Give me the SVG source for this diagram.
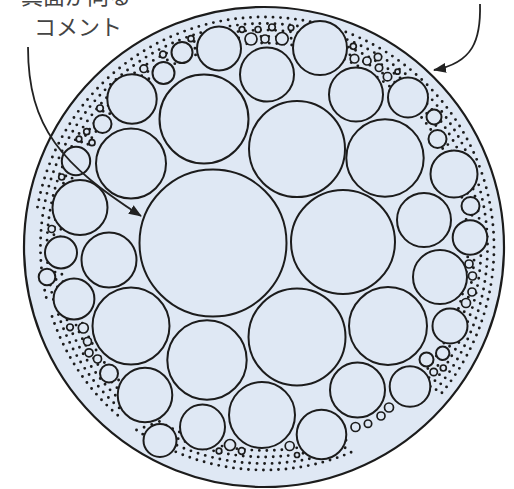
<svg xmlns="http://www.w3.org/2000/svg" width="514" height="489" viewBox="0 0 514 489">
<defs>
<style>
.c{fill:#dfe8f4;stroke:#1c1c1c;stroke-width:2}
.r{fill:#dfe8f4;stroke:#1c1c1c;stroke-width:1.7}
.d{fill:none;stroke:#1c1c1c;stroke-width:2.9;stroke-linecap:round;stroke-dasharray:0 7.5}
.t{font-family:"Noto Sans CJK JP","Noto Sans",sans-serif;font-size:22px;fill:#444}
.a{fill:none;stroke:#222;stroke-width:1.8}
</style>
<marker id="ah" markerUnits="userSpaceOnUse" markerWidth="13" markerHeight="11" viewBox="0 0 13 10" refX="12" refY="5" orient="auto">
<path d="M0,0 L13,5 L0,10 z" fill="#222"/>
</marker>
</defs>
<rect width="514" height="489" fill="#ffffff"/>
<g id="outer"><circle cx="264" cy="247" r="240" fill="#dfe8f4" stroke="#1c1c1c" stroke-width="2.2"/></g>
<g id="dots">
<path class="d" d="M351.1,452.3 A223,223 0 0 1 136.1,429.7"/>
<path class="d" style="stroke-dashoffset:3.7" d="M348.6,446.3 A216.5,216.5 0 0 1 139.8,424.4"/>
<path class="d" d="M346,440.3 A210,210 0 0 1 143.5,419"/>
<path class="d" style="stroke-dashoffset:3.7" d="M343.5,434.3 A203.5,203.5 0 0 1 147.3,413.7"/>
<path class="d" d="M117.7,415.3 A223,223 0 0 1 50.7,312.2"/>
<path class="d" style="stroke-dashoffset:3.7" d="M122,410.4 A216.5,216.5 0 0 1 57,310.3"/>
<path class="d" d="M126.2,405.5 A210,210 0 0 1 63.2,308.4"/>
<path class="d" style="stroke-dashoffset:3.7" d="M130.5,400.6 A203.5,203.5 0 0 1 69.4,306.5"/>
<path class="d" d="M134.7,395.7 A197,197 0 0 1 75.6,304.6"/>
<path class="d" d="M37.5,207.1 A230,230 0 0 1 311.8,22"/>
<path class="d" style="stroke-dashoffset:3.7" d="M47.1,301.1 A223.5,223.5 0 0 1 310.5,28.4"/>
<path class="d" d="M53.4,299.5 A217,217 0 0 1 309.1,34.8"/>
<path class="d" style="stroke-dashoffset:3.7" d="M59.8,297.9 A210.5,210.5 0 0 1 307.8,41.1"/>
<path class="d" d="M66.1,296.3 A204,204 0 0 1 306.4,47.5"/>
<path class="d" d="M338.9,29.5 A230,230 0 0 1 440.2,394.8"/>
<path class="d" style="stroke-dashoffset:3.7" d="M336.8,35.7 A223.5,223.5 0 0 1 435.2,390.7"/>
<path class="d" d="M334.7,41.8 A217,217 0 0 1 414.7,403.1"/>
<path class="d" style="stroke-dashoffset:3.7" d="M332.5,48 A210.5,210.5 0 0 1 410.2,398.4"/>
<path class="d" d="M330.4,54.1 A204,204 0 0 1 405.7,393.7"/>
</g>
<g id="circles">
<circle class="c" cx="213" cy="243" r="73.5"/>
<circle class="c" cx="343" cy="242" r="52"/>
<circle class="c" cx="297" cy="149" r="48"/>
<circle class="c" cx="297" cy="337" r="48.5"/>
<circle class="c" cx="204" cy="119" r="44.5"/>
<circle class="c" cx="385" cy="158" r="38.7"/>
<circle class="c" cx="388" cy="326" r="39"/>
<circle class="c" cx="207" cy="360" r="39.7"/>
<circle class="c" cx="131" cy="326" r="38.5"/>
<circle class="c" cx="131" cy="163.5" r="35"/>
<circle class="c" cx="262" cy="415" r="33"/>
<circle class="c" cx="267" cy="74.5" r="27"/>
<circle class="c" cx="320" cy="48" r="27"/>
<circle class="c" cx="356" cy="94.5" r="27"/>
<circle class="c" cx="424" cy="220" r="27"/>
<circle class="c" cx="440" cy="277" r="27"/>
<circle class="c" cx="357.5" cy="390" r="27.5"/>
<circle class="c" cx="145" cy="395" r="27.3"/>
<circle class="c" cx="109" cy="260" r="27.5"/>
<circle class="c" cx="80" cy="207.5" r="27.5"/>
<circle class="c" cx="132" cy="99" r="24.7"/>
<circle class="c" cx="321.5" cy="434.5" r="24.8"/>
<circle class="c" cx="454" cy="174" r="23.5"/>
<circle class="c" cx="219" cy="48.5" r="22"/>
<circle class="c" cx="202.5" cy="427" r="22.5"/>
<circle class="c" cx="74" cy="299" r="20.4"/>
<circle class="c" cx="408" cy="97.5" r="20"/>
<circle class="c" cx="410" cy="386.5" r="20.3"/>
<circle class="c" cx="470" cy="237.5" r="17.3"/>
<circle class="c" cx="450" cy="326" r="17.5"/>
<circle class="c" cx="160" cy="440.5" r="16.5"/>
<circle class="c" cx="61" cy="252.5" r="16"/>
<circle class="c" cx="76" cy="161" r="14.2"/>
<circle class="c" cx="182" cy="52.5" r="10.5"/>
<circle class="c" cx="163.5" cy="73" r="11"/>
<circle class="c" cx="470.5" cy="206" r="9"/>
<circle class="c" cx="437.5" cy="139" r="9"/>
<circle class="c" cx="109" cy="373.5" r="9"/>
<circle class="c" cx="102.5" cy="124" r="9"/>
<circle class="c" cx="47" cy="277" r="8.3"/>
<circle class="c" cx="434" cy="117" r="7.5"/>
<circle class="c" cx="426.5" cy="359.5" r="7"/>
<circle class="c" cx="442.7" cy="353.3" r="6.7"/>
</g>
<g id="rings">
<circle class="r" cx="251" cy="39" r="6"/>
<circle class="r" cx="265" cy="39" r="4"/>
<circle class="r" cx="282" cy="38.7" r="6.2"/>
<circle class="r" cx="242" cy="29.5" r="2.8"/>
<circle class="r" cx="258" cy="29.5" r="3"/>
<circle class="r" cx="272" cy="27.3" r="3.3"/>
<circle class="r" cx="291" cy="27.8" r="2.8"/>
<circle class="r" cx="191" cy="38.7" r="3"/>
<circle class="r" cx="163" cy="54.5" r="3.3"/>
<circle class="r" cx="143.8" cy="68.7" r="3.8"/>
<circle class="r" cx="354.5" cy="58.7" r="4.3"/>
<circle class="r" cx="353.3" cy="46.3" r="3"/>
<circle class="r" cx="367" cy="61" r="4"/>
<circle class="r" cx="378" cy="57" r="3.7"/>
<circle class="r" cx="379" cy="67.8" r="3.7"/>
<circle class="r" cx="387.5" cy="76.7" r="4.2"/>
<circle class="r" cx="397.5" cy="71.7" r="2.5"/>
<circle class="r" cx="100" cy="108.3" r="3.3"/>
<circle class="r" cx="86.7" cy="131.7" r="3"/>
<circle class="r" cx="79" cy="139" r="2.8"/>
<circle class="r" cx="92" cy="142.7" r="3"/>
<circle class="r" cx="61.7" cy="177" r="3"/>
<circle class="r" cx="51.7" cy="229" r="3.5"/>
<circle class="r" cx="469" cy="264" r="4"/>
<circle class="r" cx="472.5" cy="276" r="4"/>
<circle class="r" cx="472" cy="292" r="4"/>
<circle class="r" cx="466" cy="303" r="4.5"/>
<circle class="r" cx="433.7" cy="372" r="3.7"/>
<circle class="r" cx="443.3" cy="368" r="3"/>
<circle class="r" cx="230" cy="445" r="5.5"/>
<circle class="r" cx="289.7" cy="446" r="4.5"/>
<circle class="r" cx="219" cy="451" r="2.8"/>
<circle class="r" cx="241.7" cy="451" r="3.3"/>
<circle class="r" cx="368" cy="423.7" r="3.7"/>
<circle class="r" cx="355.5" cy="427" r="4.5"/>
<circle class="r" cx="297" cy="455" r="2.5"/>
<circle class="r" cx="381" cy="416" r="4"/>
<circle class="r" cx="389" cy="407.5" r="4.5"/>
<circle class="r" cx="83.3" cy="328" r="5"/>
<circle class="r" cx="87.5" cy="341.5" r="4"/>
<circle class="r" cx="89" cy="352.8" r="4"/>
<circle class="r" cx="97.5" cy="359" r="4"/>
<circle class="r" cx="70" cy="327.3" r="3.3"/>
</g>
<g id="labels">
<text class="t" x="21" y="3.5">真面が向る</text>
<text class="t" x="34" y="35">コメント</text>
</g>
<g id="connectors">
<path class="a" d="M28,47 C28,128 62,165 141,216" marker-end="url(#ah)"/>
<path class="a" d="M480,4 C481,40 473,63 434,70" marker-end="url(#ah)"/>
</g>
</svg>
